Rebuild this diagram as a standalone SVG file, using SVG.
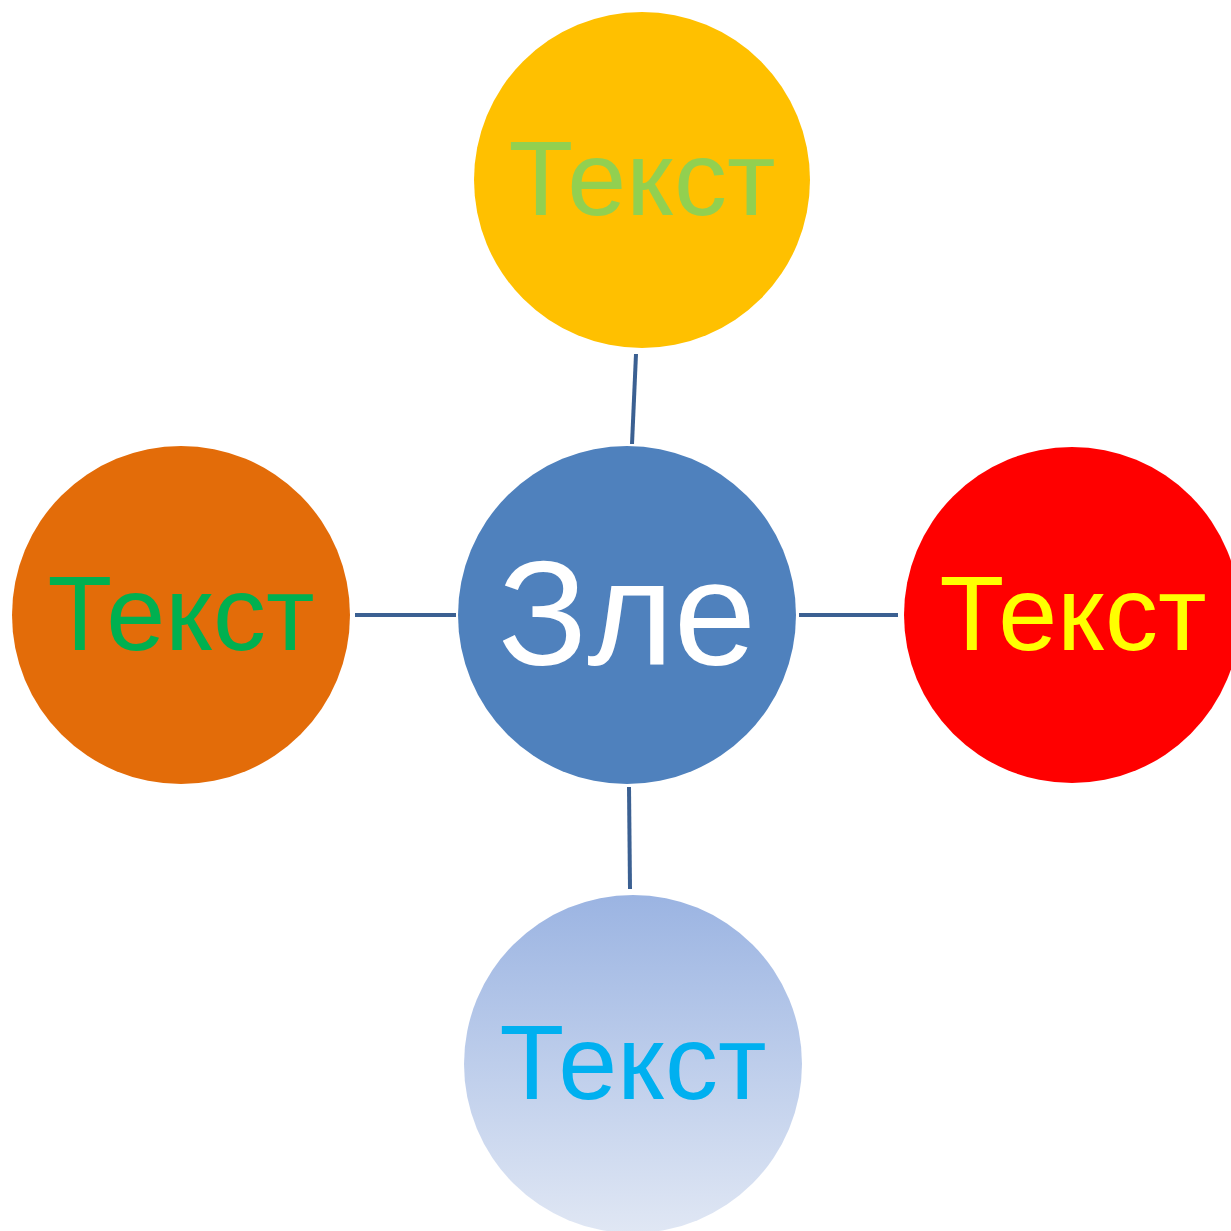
<svg xmlns="http://www.w3.org/2000/svg" width="1231" height="1231" viewBox="0 0 1231 1231">
<style>
.lbl{font-family:"Liberation Sans",Arial,sans-serif;font-size:106px;text-anchor:middle}
.conn{stroke:#3B6092;stroke-width:4;fill:none}
</style>
<defs>
<linearGradient id="gb" x1="0" y1="0" x2="0" y2="1">
<stop offset="0" stop-color="#9BB4E2"/>
<stop offset="1" stop-color="#E0E7F4"/>
</linearGradient>
</defs>
<rect width="1231" height="1231" fill="#FFFFFF"/>
<g id="connectors">
<line class="conn" x1="636" y1="354" x2="632" y2="444"/>
<line class="conn" x1="355" y1="615" x2="456" y2="615"/>
<line class="conn" x1="799" y1="615" x2="898" y2="615"/>
<line class="conn" x1="629" y1="787" x2="630" y2="889"/>
</g>
<g id="node-top">
<circle cx="642" cy="180" r="168" fill="#FFC000"/>
<text class="lbl" x="642" y="215" fill="#92D050">Текст</text>
</g>
<g id="node-left">
<circle cx="181" cy="615" r="169" fill="#E36C09"/>
<text class="lbl" x="181" y="650" fill="#00B050">Текст</text>
</g>
<g id="node-center">
<circle cx="627" cy="615" r="169" fill="#4F81BD"/>
<text class="lbl" x="627" y="665" fill="#FFFFFF" style="font-size:148px">Зле</text>
</g>
<g id="node-right">
<circle cx="1072" cy="615" r="168" fill="#FF0000"/>
<text class="lbl" x="1073" y="650" fill="#FFFF00">Текст</text>
</g>
<g id="node-bottom">
<circle cx="633" cy="1064" r="169" fill="url(#gb)"/>
<text class="lbl" x="633" y="1099" fill="#00B0F0">Текст</text>
</g>
</svg>
